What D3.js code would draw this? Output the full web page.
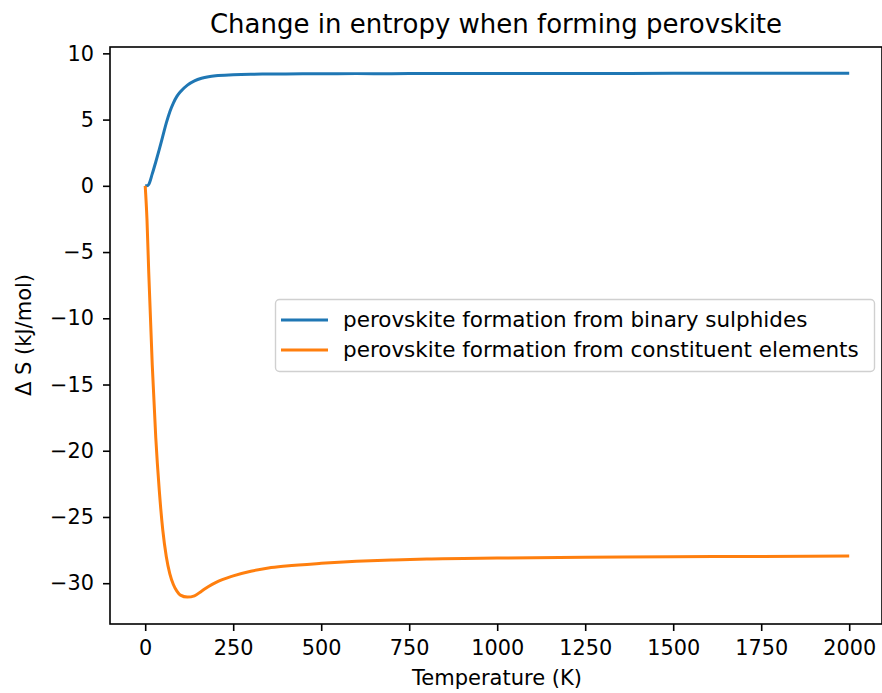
<!DOCTYPE html>
<html>
<head>
<meta charset="utf-8">
<script src="https://cdn.jsdelivr.net/npm/d3@7"></script>
<style>
  html, body { margin: 0; padding: 0; background: #fff; }
  svg text { font-family: "DejaVu Sans", sans-serif; fill: #000; }
</style>
</head>
<body>
<svg id="chart" width="882" height="693"></svg>
<script>
const temperatures = [0, 5, 10, 20, 30, 40, 50, 60, 70, 80, 90, 100, 120, 140, 160, 180, 200, 250, 300, 350, 400, 500, 600, 700, 800, 1000, 1250, 1500, 1750, 2000];
const binarySulphides = [0, 0, 0.1, 0.9, 1.8, 2.75, 3.75, 4.75, 5.6, 6.25, 6.75, 7.1, 7.6, 7.92, 8.12, 8.24, 8.31, 8.38, 8.42, 8.44, 8.45, 8.46, 8.47, 8.47, 8.48, 8.48, 8.48, 8.49, 8.49, 8.49];
const constituentElements = [0, -2.5, -6.5, -13.5, -19, -23, -26, -28, -29.3, -30.1, -30.6, -30.9, -31.05, -30.95, -30.6, -30.25, -29.95, -29.45, -29.1, -28.85, -28.7, -28.5, -28.35, -28.25, -28.17, -28.1, -28.05, -28.0, -27.98, -27.95];
const seriesNames = ["perovskite formation from binary sulphides", "perovskite formation from constituent elements"];
const seriesColors = ["#1f77b4", "#ff7f0e"];
const xTicks = [0, 250, 500, 750, 1000, 1250, 1500, 1750, 2000];
const yTicks = [10, 5, 0, -5, -10, -15, -20, -25, -30];

const svg = d3.select("#chart");
const pL = 110, pR = 882, pT = 47, pB = 624;

const x = d3.scaleLinear().domain([-100, 2100]).range([pL, pL + 2200 * 0.352]);
const y = d3.scaleLinear().domain([-33.08, 10.48]).range([pB, pT]);

const fmt = d3.format("d");

svg.append("clipPath").attr("id", "clip").append("rect")
  .attr("x", pL).attr("y", pT).attr("width", pR - pL).attr("height", pB - pT);

const series = [binarySulphides, constituentElements];
const line = d3.line().x((d, i) => x(temperatures[i])).y(d => y(d)).curve(d3.curveMonotoneX);
const plot = svg.append("g").attr("clip-path", "url(#clip)");
series.forEach((s, k) => {
  plot.append("path").datum(s).attr("d", line)
    .attr("fill", "none").attr("stroke", seriesColors[k]).attr("stroke-width", 3)
    .attr("stroke-linejoin", "round").attr("stroke-linecap", "butt");
});

const xAxis = d3.axisBottom(x).tickValues(xTicks).tickFormat(fmt).tickSize(7).tickPadding(9);
const yAxis = d3.axisLeft(y).tickValues(yTicks).tickFormat(fmt).tickSize(7).tickPadding(9);
const gx = svg.append("g").attr("transform", `translate(0,${pB})`).call(xAxis);
const gy = svg.append("g").attr("transform", `translate(${pL},0)`).call(yAxis);
[gx, gy].forEach(g => {
  g.select(".domain").remove();
  g.selectAll(".tick line").attr("stroke", "#000").attr("stroke-width", 1.6);
  g.selectAll(".tick text").attr("font-size", 20.8).attr("font-family", "DejaVu Sans").attr("fill", "#000");
});

svg.append("rect").attr("x", pL).attr("y", pT).attr("width", pR - pL).attr("height", pB - pT)
  .attr("fill", "none").attr("stroke", "#000").attr("stroke-width", 1.6);

svg.append("text").attr("x", 496).attr("y", 33).attr("text-anchor", "middle")
  .attr("font-size", 26).text("Change in entropy when forming perovskite");
svg.append("text").attr("x", 497).attr("y", 685).attr("text-anchor", "middle")
  .attr("font-size", 21).text("Temperature (K)");
svg.append("text").attr("transform", `translate(31,335) rotate(-90)`)
  .attr("text-anchor", "middle").attr("font-size", 21).text("Δ S (kJ/mol)");

const lg = svg.append("g");
lg.append("rect").attr("x", 275.5).attr("y", 299.5).attr("width", 599).attr("height", 72)
  .attr("rx", 4).attr("fill", "#fff").attr("fill-opacity", 0.8).attr("stroke", "#d0d0d0").attr("stroke-width", 1.4);
seriesNames.forEach((name, k) => {
  const yy = 320 + k * 30;
  lg.append("line").attr("x1", 281).attr("x2", 328).attr("y1", yy).attr("y2", yy)
    .attr("stroke", seriesColors[k]).attr("stroke-width", 3);
  lg.append("text").attr("x", 343).attr("y", yy + 7).attr("font-size", 21.5).text(name);
});
</script>
</body>
</html>
